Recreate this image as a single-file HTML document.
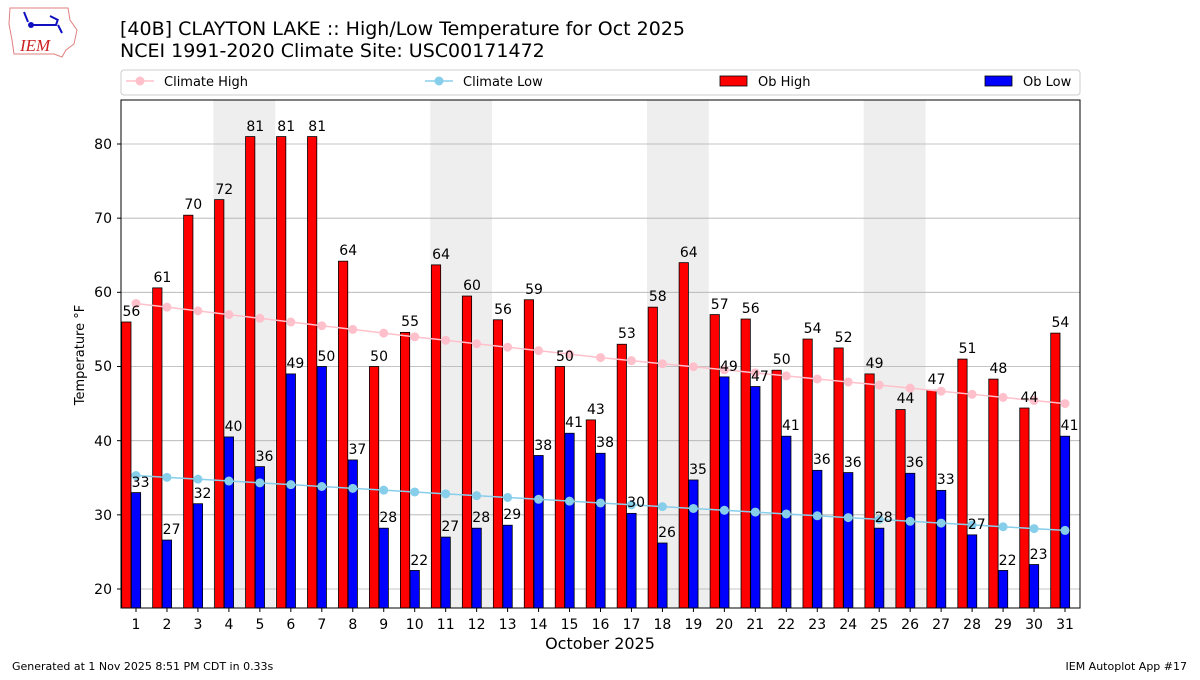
<!DOCTYPE html>
<html><head><meta charset="utf-8"><style>
body{margin:0;background:#fff;width:1200px;height:675px;overflow:hidden}
svg{font-family:"DejaVu Sans","Liberation Sans",sans-serif}
</style></head><body>
<svg id="s" width="1200" height="675" xmlns="http://www.w3.org/2000/svg">
<rect width="1200" height="675" fill="#fff"/>
<g>
<path d="M10,8 L68,8 L70,20 L77,30 L74,44 L66,50 L62,57 L54,54 L14,54 L12,40 L9,24 Z" fill="none" stroke="#e08080" stroke-width="1"/>
<path d="M24,12 L28,22 M30,25 L56,25 L58,19 M58,25 L62,33 M50,16 L58,20" stroke="#1010c0" stroke-width="2" fill="none"/>
<circle cx="31" cy="25" r="3" fill="#1010c0"/>
<text x="20" y="51" font-family="Liberation Serif,serif" font-style="italic" font-size="17" fill="#cc2020">IEM</text>
</g>
<text x="120" y="35" font-size="19">[40B] CLAYTON LAKE :: High/Low Temperature for Oct 2025</text>
<text x="120" y="57" font-size="19">NCEI 1991-2020 Climate Site: USC00171472</text>
<rect x="121" y="70" width="959" height="25" rx="3" fill="#fff" stroke="#ccc"/>
<line x1="126" y1="81" x2="154" y2="81" stroke="pink" stroke-width="1.5"/><circle cx="140" cy="81" r="4.5" fill="pink"/>
<text x="164" y="86" font-size="13">Climate High</text>
<line x1="425" y1="81" x2="453" y2="81" stroke="skyblue" stroke-width="1.5"/><circle cx="439" cy="81" r="4.5" fill="skyblue"/>
<text x="463" y="86" font-size="13">Climate Low</text>
<rect x="720" y="76" width="27" height="10" fill="red" stroke="#000" stroke-width="0.8"/>
<text x="758" y="86" font-size="13">Ob High</text>
<rect x="985" y="76" width="27" height="10" fill="blue" stroke="#000" stroke-width="0.8"/>
<text x="1023" y="86" font-size="13">Ob Low</text>
<g fill="#eeeeee">
<rect x="213.4" y="100" width="61.9" height="508"/>
<rect x="430.2" y="100" width="61.9" height="508"/>
<rect x="646.9" y="100" width="61.9" height="508"/>
<rect x="863.7" y="100" width="61.9" height="508"/>
</g>
<g stroke="#b0b0b0" stroke-width="0.8">
<line x1="121" x2="1080" y1="589" y2="589"/><line x1="121" x2="1080" y1="514.8" y2="514.8"/>
<line x1="121" x2="1080" y1="440.7" y2="440.7"/><line x1="121" x2="1080" y1="366.5" y2="366.5"/>
<line x1="121" x2="1080" y1="292.3" y2="292.3"/><line x1="121" x2="1080" y1="218.2" y2="218.2"/>
<line x1="121" x2="1080" y1="144" y2="144"/>
</g>
<g id="bars"></g>
<g id="lines"></g>
<g font-size="14" text-anchor="middle" id="hl">
<text x="131.4" y="316">56</text><text x="162.4" y="282">61</text><text x="193.3" y="209">70</text><text x="224.3" y="194">72</text><text x="255.3" y="131">81</text><text x="286.2" y="131">81</text><text x="317.2" y="131">81</text><text x="348.2" y="255">64</text><text x="379.1" y="361">50</text><text x="410.1" y="326">55</text><text x="441.1" y="259">64</text><text x="472" y="290">60</text><text x="503" y="314">56</text><text x="534" y="294">59</text><text x="564.9" y="361">50</text><text x="595.9" y="414">43</text><text x="626.9" y="338">53</text><text x="657.8" y="301">58</text><text x="688.8" y="257">64</text><text x="719.7" y="309">57</text><text x="750.7" y="313">56</text><text x="781.7" y="364">50</text><text x="812.6" y="333">54</text><text x="843.6" y="342">52</text><text x="874.6" y="368">49</text><text x="905.5" y="403">44</text><text x="936.5" y="384">47</text><text x="967.5" y="353">51</text><text x="998.4" y="373">48</text><text x="1029.4" y="402">44</text><text x="1060.4" y="327">54</text>
</g>
<g font-size="14" text-anchor="middle">
<text x="140.6" y="487">33</text><text x="171.6" y="534">27</text><text x="202.5" y="498">32</text><text x="233.5" y="431">40</text><text x="264.5" y="461">36</text><text x="295.4" y="368">49</text><text x="326.4" y="361">50</text><text x="357.4" y="454">37</text><text x="388.3" y="522">28</text><text x="419.3" y="565">22</text><text x="450.3" y="531">27</text><text x="481.2" y="522">28</text><text x="512.2" y="519">29</text><text x="543.2" y="450">38</text><text x="574.1" y="427">41</text><text x="605.1" y="447">38</text><text x="636.1" y="507">30</text><text x="667" y="537">26</text><text x="698" y="474">35</text><text x="728.9" y="371">49</text><text x="759.9" y="381">47</text><text x="790.9" y="430">41</text><text x="821.8" y="464">36</text><text x="852.8" y="467">36</text><text x="883.8" y="522">28</text><text x="914.7" y="467">36</text><text x="945.7" y="484">33</text><text x="976.7" y="529">27</text><text x="1007.6" y="565">22</text><text x="1038.6" y="559">23</text><text x="1069.6" y="430">41</text>
</g>
<rect x="121" y="100" width="959" height="508" fill="none" stroke="#000" stroke-width="1"/>
<g font-size="14" text-anchor="end">
<text x="112" y="594">20</text><text x="112" y="520">30</text><text x="112" y="446">40</text><text x="112" y="371">50</text><text x="112" y="297">60</text><text x="112" y="223">70</text><text x="112" y="149">80</text>
</g>
<g stroke="#000" id="yt"></g>
<g font-size="14" text-anchor="middle">
<text x="136" y="629">1</text><text x="167" y="629">2</text><text x="197.9" y="629">3</text><text x="228.9" y="629">4</text><text x="259.9" y="629">5</text><text x="290.8" y="629">6</text><text x="321.8" y="629">7</text><text x="352.8" y="629">8</text><text x="383.7" y="629">9</text><text x="414.7" y="629">10</text><text x="445.7" y="629">11</text><text x="476.6" y="629">12</text><text x="507.6" y="629">13</text><text x="538.6" y="629">14</text><text x="569.5" y="629">15</text><text x="600.5" y="629">16</text><text x="631.5" y="629">17</text><text x="662.4" y="629">18</text><text x="693.4" y="629">19</text><text x="724.3" y="629">20</text><text x="755.3" y="629">21</text><text x="786.3" y="629">22</text><text x="817.2" y="629">23</text><text x="848.2" y="629">24</text><text x="879.2" y="629">25</text><text x="910.1" y="629">26</text><text x="941.1" y="629">27</text><text x="972.1" y="629">28</text><text x="1003" y="629">29</text><text x="1034" y="629">30</text><text x="1065" y="629">31</text>
</g>
<text x="600" y="649" font-size="16" text-anchor="middle">October 2025</text>
<text transform="translate(84,355) rotate(-90)" font-size="13" text-anchor="middle">Temperature °F</text>
<text x="12" y="670" font-size="11">Generated at 1 Nov 2025 8:51 PM CDT in 0.33s</text>
<text x="1187" y="670" font-size="11" text-anchor="end">IEM Autoplot App #17</text>
</svg>
<script>
var hi=[56,60.6,70.4,72.5,81,81,81,64.2,50,54.6,63.7,59.5,56.3,59,50,42.8,53,58,64,57,56.4,49.5,53.7,52.5,49,44.2,46.8,51,48.3,44.4,54.5];
var lo=[33,26.6,31.5,40.5,36.5,49,50,37.4,28.2,22.5,27,28.2,28.6,38,41,38.3,30.2,26.2,34.7,48.6,47.3,40.6,36,35.7,28.2,35.6,33.3,27.3,22.5,23.3,40.6];
var NS="http://www.w3.org/2000/svg";
function X(d){return 136+(d-1)*30.967}
function Y(v){return 589-(v-20)*7.4167}
function el(p,n,a){var e=document.createElementNS(NS,n);for(var k in a)e.setAttribute(k,a[k]);p.appendChild(e);return e}
var kd=[1,10,16,25,31],kv=[58.5,54.0,51.2,47.5,45.0];
function CH(d){for(var j=0;j<4;j++){if(d<=kd[j+1]){return kv[j]+(kv[j+1]-kv[j])*(d-kd[j])/(kd[j+1]-kd[j]);}}return 45;}
function CL(d){return 35.3-7.4*(d-1)/30}
var b=document.getElementById("bars"),l=document.getElementById("lines"),yt=document.getElementById("yt");
for(var i=0;i<31;i++){var x=X(i+1);
el(b,"rect",{x:x-14.3,y:Y(hi[i]),width:9.3,height:608-Y(hi[i]),fill:"red",stroke:"#000","stroke-width":0.8});
el(b,"rect",{x:x-4.65,y:Y(lo[i]),width:9.3,height:608-Y(lo[i]),fill:"blue",stroke:"#000","stroke-width":0.8});
el(yt,"line",{x1:x,x2:x,y1:608,y2:612});}
var ph=[],pl=[];
for(var i=0;i<31;i++){var x=X(i+1);ph.push(x+","+Y(CH(i+1)));pl.push(x+","+Y(CL(i+1)));}
el(l,"polyline",{points:ph.join(" "),fill:"none",stroke:"pink","stroke-width":1.5});
el(l,"polyline",{points:pl.join(" "),fill:"none",stroke:"skyblue","stroke-width":1.5});
for(var i=0;i<31;i++){var x=X(i+1);el(l,"circle",{cx:x,cy:Y(CH(i+1)),r:4.5,fill:"pink"});el(l,"circle",{cx:x,cy:Y(CL(i+1)),r:4.5,fill:"skyblue"});}
[20,30,40,50,60,70,80].forEach(function(v){el(yt,"line",{x1:117,x2:121,y1:Y(v),y2:Y(v)})});
</script>
</body></html>
